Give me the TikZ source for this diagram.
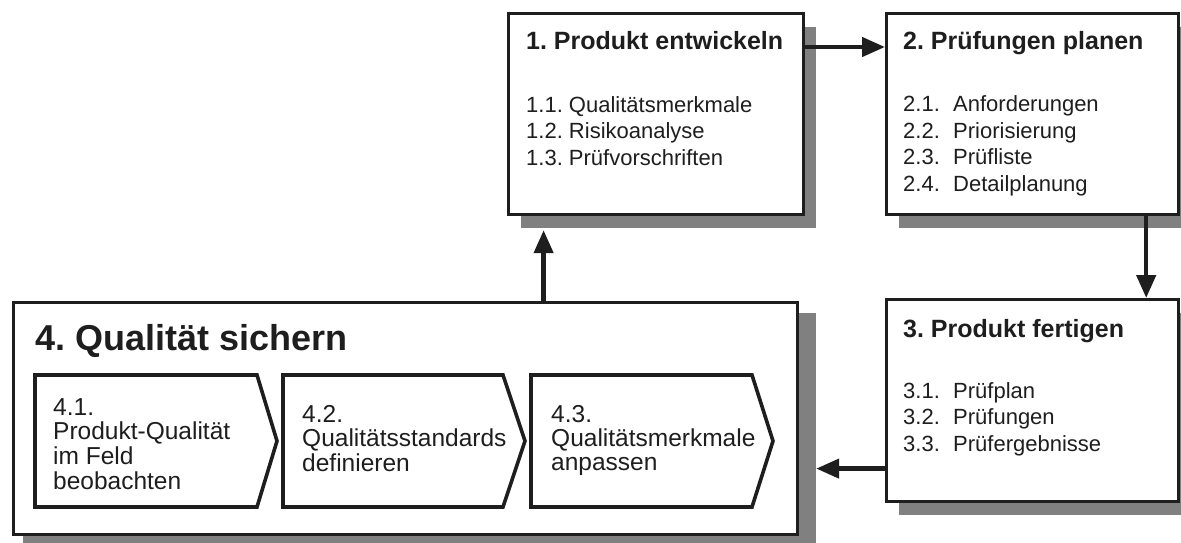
\documentclass[tikz,border=0pt]{standalone}
\usepackage{fontspec}
\setmainfont{Liberation Sans}
\usetikzlibrary{arrows.meta,shadows,backgrounds}
\definecolor{ink}{RGB}{30,30,30}
\definecolor{shadowgray}{RGB}{128,128,128}
\frenchspacing
\begin{document}
\begin{tikzpicture}[x=1pt,y=-1pt,
  box/.style={draw=ink, line width=3.2pt, fill=white, inner sep=0pt, anchor=north west},
  shad/.style={drop shadow={shadow xshift=12pt, shadow yshift=-13pt, fill=shadowgray, opacity=1}},
  ttl/.style={anchor=base west, inner sep=0pt, font=\fontsize{25}{30}\selectfont\bfseries, text=ink},
  bigttl/.style={anchor=base west, inner sep=0pt, font=\fontsize{36}{42}\selectfont\bfseries, text=ink},
  itm/.style={anchor=base west, inner sep=0pt, font=\fontsize{22}{26.5}\selectfont, text=ink},
  sub/.style={anchor=base west, inner sep=0pt, font=\fontsize{24.5}{24}\selectfont, text=ink},
  arr/.style={draw=ink, line width=4.5pt, -{Triangle[length=23pt,width=19pt]}},
  chev/.style={draw=ink, line width=3.6pt, fill=white, line join=miter}]
\useasboundingbox (0,0) rectangle (1181,543);

% boxes
\node[box, shad, minimum width=295pt, minimum height=201pt] (b1) at (507,12) {};
\node[box, shad, minimum width=292pt, minimum height=201pt] (b2) at (885,12) {};
\node[box, shad, minimum width=292pt, minimum height=202pt] (b3) at (885,298) {};
\node[box, minimum width=784pt, minimum height=232pt] (b4) at (12,301) {};
\begin{scope}[on background layer]
  \fill[white] (0,0) rectangle (1181,543);
  \fill[shadowgray] ([shift={(11pt,-12pt)}]b4.south west) rectangle ([shift={(17pt,-12pt)}]b4.north east);
\end{scope}

% box texts
\node[ttl] (t1) at (526,50) {1. Produkt entwickeln};
\node[itm] (i1) at (526,112) {\begin{tabular}[t]{@{}l@{}}1.1. Qualitätsmerkmale\\1.2. Risikoanalyse\\1.3. Prüfvorschriften\end{tabular}};

\node[ttl] (t2) at (903,50) {2. Prüfungen planen};
\node[itm] (i2) at (903,111.5) {\begin{tabular}[t]{@{}l@{}}\makebox[50pt][l]{2.1.}Anforderungen\\\makebox[50pt][l]{2.2.}Priorisierung\\\makebox[50pt][l]{2.3.}Prüfliste\\\makebox[50pt][l]{2.4.}Detailplanung\end{tabular}};

\node[ttl] (t3) at (903,337) {3. Produkt fertigen};
\node[itm] (i3) at (903,398) {\begin{tabular}[t]{@{}l@{}}\makebox[50pt][l]{3.1.}Prüfplan\\\makebox[50pt][l]{3.2.}Prüfungen\\\makebox[50pt][l]{3.3.}Prüfergebnisse\end{tabular}};

\node[bigttl] (t4) at (35,350) {4. Qualität sichern};

% chevrons
\draw[chev] (35,375) -- (257,375) -- (277,441) -- (257,507) -- (35,507) -- cycle;
\draw[chev] (283,375) -- (503,375) -- (525,441) -- (503,507) -- (283,507) -- cycle;
\draw[chev] (531,375) -- (752,375) -- (773,441) -- (752,507) -- (531,507) -- cycle;

\node[sub] (s1) at (53,415) {\begin{tabular}[t]{@{}l@{}}4.1.\\Produkt-Qualität\\im Feld\\beobachten\end{tabular}};
\node[sub] (s2) at (302,422) {\begin{tabular}[t]{@{}l@{}}4.2.\\Qualitätsstandards\\definieren\end{tabular}};
\node[sub] (s3) at (551,422) {\begin{tabular}[t]{@{}l@{}}4.3.\\Qualitätsmerkmale\\anpassen\end{tabular}};

% connectors
\draw[arr] ([yshift=-35pt]b1.north east) -- ([yshift=-35pt]b2.north west);
\draw[arr] ([xshift=-34pt]b2.south east) -- ([xshift=-34pt]b3.north east);
\coordinate (c3) at ([yshift=-68pt]b3.west);
\coordinate (c4) at ([xshift=17pt]b4.east);
\draw[arr] (c3) -- (c4 |- c3);
\coordinate (c5) at ([xshift=138pt]b4.north);
\coordinate (c1) at ([yshift=-14pt]b1.south);
\draw[arr] (c5) -- (c5 |- c1);
\end{tikzpicture}
\end{document}
